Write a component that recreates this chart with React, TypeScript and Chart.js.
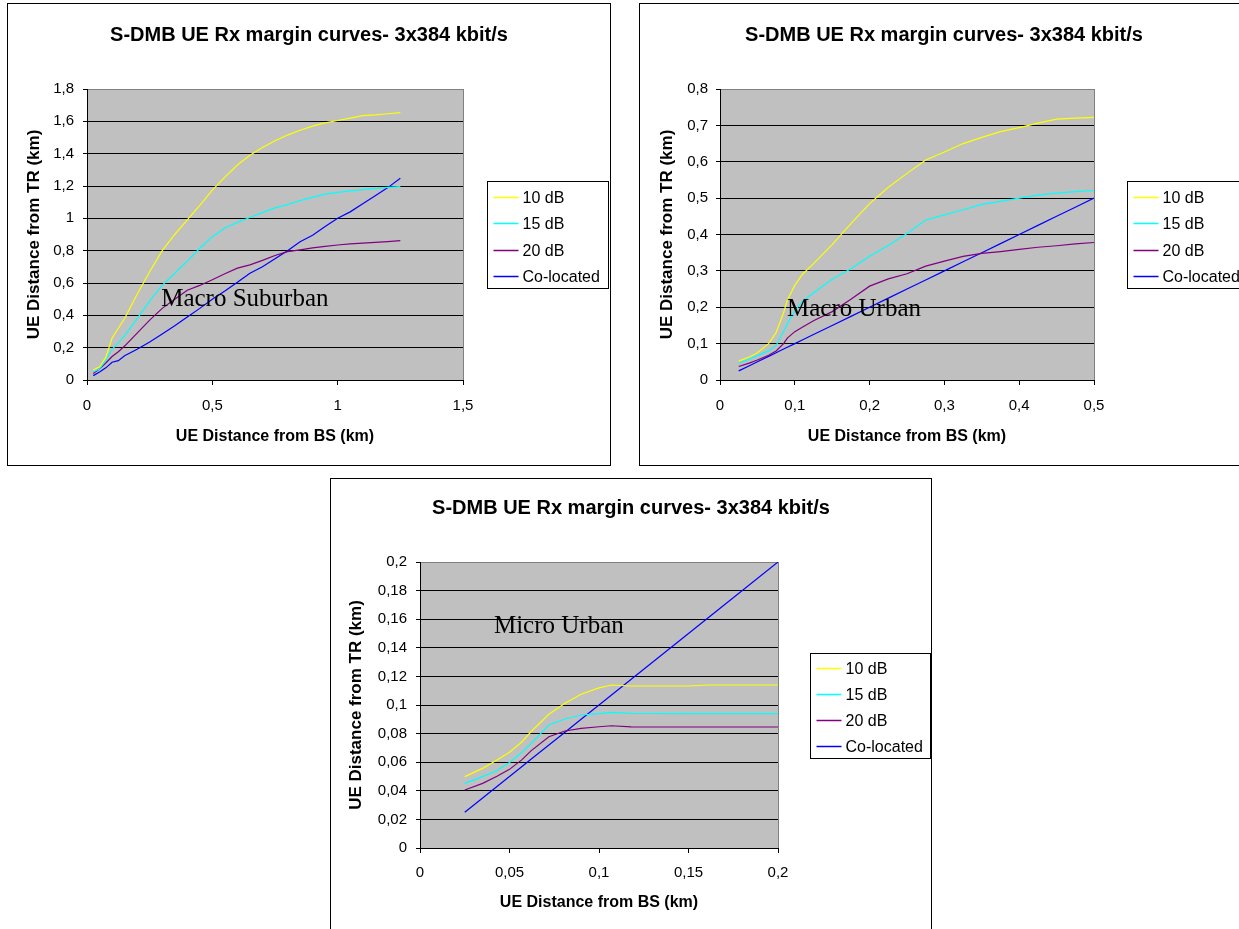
import React, { useEffect, useRef } from 'react';
import { Chart, registerables } from 'chart.js';

Chart.register(...registerables);
Chart.defaults.font.family = '"Liberation Sans", Arial, sans-serif';
Chart.defaults.color = '#000';

const CHART_TITLE = 'S-DMB UE Rx margin curves- 3x384 kbit/s';
const X_AXIS_TITLE = 'UE Distance from BS (km)';
const Y_AXIS_TITLE = 'UE Distance from TR (km)';
const SERIES_NAMES = ['10 dB', '15 dB', '20 dB', 'Co-located'];
const SERIES_COLORS = ['#FFFF00', '#00FFFF', '#800080', '#0000FF'];

// Macro Suburban
const suburbanX = [0.025, 0.05, 0.075, 0.1, 0.125, 0.15, 0.2, 0.25, 0.3, 0.35, 0.4, 0.45, 0.5, 0.55, 0.6, 0.65, 0.7, 0.75, 0.8, 0.85, 0.9, 0.95, 1.0, 1.05, 1.1, 1.15, 1.2, 1.25];
const suburban10dB = [0.062, 0.082, 0.14, 0.26, 0.32, 0.38, 0.53, 0.67, 0.8, 0.9, 0.99, 1.08, 1.175, 1.255, 1.33, 1.39, 1.438, 1.48, 1.515, 1.545, 1.57, 1.59, 1.605, 1.62, 1.635, 1.64, 1.647, 1.654];
const suburban15dB = [0.05, 0.07, 0.12, 0.19, 0.23, 0.275, 0.38, 0.49, 0.585, 0.66, 0.735, 0.815, 0.885, 0.94, 0.975, 1.005, 1.035, 1.065, 1.085, 1.11, 1.13, 1.15, 1.16, 1.17, 1.177, 1.185, 1.192, 1.196];
const suburban20dB = [0.04, 0.07, 0.105, 0.145, 0.175, 0.21, 0.29, 0.37, 0.443, 0.5, 0.555, 0.585, 0.62, 0.657, 0.692, 0.712, 0.74, 0.77, 0.794, 0.805, 0.817, 0.826, 0.835, 0.842, 0.847, 0.851, 0.856, 0.862];
const suburbanCoLocated = [0.027, 0.05, 0.075, 0.11, 0.12, 0.15, 0.19, 0.235, 0.285, 0.335, 0.39, 0.443, 0.5, 0.55, 0.605, 0.66, 0.7, 0.75, 0.8, 0.855, 0.895, 0.95, 1.0, 1.04, 1.09, 1.14, 1.19, 1.248];

// Macro Urban
const urbanX = [0.025, 0.04, 0.05, 0.065, 0.075, 0.085, 0.09, 0.1, 0.11, 0.125, 0.15, 0.175, 0.2, 0.225, 0.25, 0.275, 0.3, 0.325, 0.35, 0.375, 0.4, 0.425, 0.45, 0.475, 0.5];
const urban10dB = [0.052, 0.064, 0.075, 0.1, 0.13, 0.185, 0.22, 0.26, 0.29, 0.32, 0.372, 0.43, 0.485, 0.53, 0.568, 0.605, 0.627, 0.65, 0.667, 0.683, 0.694, 0.706, 0.717, 0.72, 0.722];
const urban15dB = [0.046, 0.058, 0.067, 0.08, 0.095, 0.134, 0.155, 0.19, 0.216, 0.24, 0.277, 0.306, 0.34, 0.37, 0.403, 0.44, 0.454, 0.468, 0.483, 0.491, 0.5, 0.508, 0.514, 0.518, 0.521];
const urban20dB = [0.037, 0.047, 0.055, 0.068, 0.08, 0.1, 0.115, 0.133, 0.145, 0.163, 0.188, 0.222, 0.258, 0.278, 0.292, 0.313, 0.327, 0.34, 0.348, 0.353, 0.359, 0.365, 0.369, 0.374, 0.378];
const urbanCoLocated = [0.025, 0.04, 0.05, 0.065, 0.075, 0.085, 0.09, 0.1, 0.11, 0.125, 0.15, 0.175, 0.2, 0.225, 0.25, 0.275, 0.3, 0.325, 0.35, 0.375, 0.4, 0.425, 0.45, 0.475, 0.5];

// Micro Urban
const microX = [0.025, 0.035, 0.043, 0.05, 0.057, 0.062, 0.072, 0.081, 0.09, 0.1, 0.107, 0.118, 0.15, 0.161, 0.2];
const micro10dB = [0.0499, 0.0557, 0.0615, 0.0669, 0.0743, 0.0813, 0.0935, 0.1012, 0.1075, 0.112, 0.114, 0.1133, 0.1133, 0.114, 0.114];
const micro15dB = [0.0452, 0.0499, 0.0542, 0.0597, 0.0669, 0.073, 0.086, 0.0902, 0.093, 0.094, 0.0949, 0.0942, 0.0939, 0.0939, 0.0939];
const micro20dB = [0.0406, 0.0452, 0.0502, 0.055, 0.0618, 0.0679, 0.0778, 0.0818, 0.0836, 0.0848, 0.0855, 0.0847, 0.0846, 0.0846, 0.0846];
const microCoLocated = [0.025, 0.035, 0.043, 0.05, 0.057, 0.062, 0.072, 0.081, 0.09, 0.1, 0.107, 0.118, 0.15, 0.161, 0.2];

const fmt = (v: number) => String(Math.round(Number(v) * 10000) / 10000).replace('.', ',');

interface PanelProps {
  left: number; top: number; width: number; height: number;
  xs: number[]; ys: number[][];
  xMax: number; xStep: number; yMax: number; yStep: number;
  area: { left: number; right: number; top: number; bottom: number };
  note: { text: string; x: number; y: number };
  titleY: number; yTitleX: number; xTitleY: number; yLabelRight: number; xLabelY: number;
  legend: { gap: number; width: number; height: number; first: number; spacing: number };
}

function Panel(p: PanelProps) {
  const ref = useRef<HTMLCanvasElement>(null);
  useEffect(() => {
    const canvas = ref.current;
    if (!canvas) return;
    const decor = {
      id: 'panelDecor',
      beforeDraw(chart: any) {
        const { ctx, chartArea: a } = chart;
        ctx.save();
        ctx.fillStyle = '#C0C0C0';
        ctx.fillRect(a.left, a.top, a.right - a.left, a.bottom - a.top);
        ctx.strokeStyle = '#808080';
        ctx.lineWidth = 1;
        ctx.beginPath();
        ctx.moveTo(Math.round(a.right) + 0.5, a.top);
        ctx.lineTo(Math.round(a.right) + 0.5, a.bottom);
        ctx.stroke();
        ctx.fillStyle = '#000';
        ctx.font = 'bold 20px "Liberation Sans", Arial, sans-serif';
        ctx.textAlign = 'center';
        ctx.textBaseline = 'middle';
        ctx.fillText(CHART_TITLE, chart.width / 2, p.titleY);
        ctx.restore();
      },
      afterDatasetsDraw(chart: any) {
        const { ctx } = chart;
        ctx.save();
        ctx.fillStyle = '#000';
        ctx.font = '25px "Liberation Serif", "Times New Roman", serif';
        ctx.textAlign = 'left';
        ctx.textBaseline = 'middle';
        ctx.fillText(p.note.text, chart.scales.x.getPixelForValue(p.note.x), chart.scales.y.getPixelForValue(p.note.y));
        ctx.restore();
      },
      afterDraw(chart: any) {
        const { ctx, chartArea: a } = chart;
        const lg = p.legend;
        const bx = Math.round(a.right + lg.gap) + 0.5;
        const by = Math.round((a.top + a.bottom) / 2 - lg.height / 2) + 0.5;
        ctx.save();
        ctx.fillStyle = '#fff';
        ctx.fillRect(bx, by, lg.width, lg.height);
        ctx.strokeStyle = '#000';
        ctx.lineWidth = 1;
        ctx.strokeRect(bx, by, lg.width, lg.height);
        ctx.font = '16px "Liberation Sans", Arial, sans-serif';
        ctx.textAlign = 'left';
        ctx.textBaseline = 'middle';
        chart.data.datasets.forEach((ds: any, i: number) => {
          const y = Math.round(by + lg.first + i * lg.spacing) + 0.5;
          ctx.strokeStyle = ds.borderColor;
          ctx.lineWidth = 1.5;
          ctx.beginPath();
          ctx.moveTo(bx + 6, y);
          ctx.lineTo(bx + 31, y);
          ctx.stroke();
          ctx.fillStyle = '#000';
          ctx.fillText(ds.label, bx + 35, y + 1);
        });
        ctx.restore();
      },
    };

    const chart = new Chart(canvas, {
      type: 'line',
      data: {
        datasets: SERIES_NAMES.map((name, i) => ({
          label: name,
          data: p.xs.map((x, j) => ({ x, y: p.ys[i][j] })),
          borderColor: SERIES_COLORS[i],
          backgroundColor: SERIES_COLORS[i],
          borderWidth: 1.2,
          pointRadius: 0,
          tension: 0,
          fill: false,
        })),
      },
      options: {
        responsive: false,
        animation: false,
        devicePixelRatio: 1,
        events: [],
        layout: { padding: { left: 0, top: p.area.top, right: p.width - p.area.right, bottom: 0 } },
        plugins: { legend: { display: false }, title: { display: false }, tooltip: { enabled: false } },
        scales: {
          x: {
            type: 'linear',
            min: 0,
            max: p.xMax,
            ticks: {
              stepSize: p.xStep,
              color: '#000',
              font: { size: 15 },
              padding: p.xLabelY - p.area.bottom - 5 - 9,
              maxRotation: 0,
              autoSkip: false,
              callback: (v: any) => fmt(v),
            },
            grid: { drawOnChartArea: false, drawTicks: true, tickLength: 5, color: '#000', tickColor: '#000' },
            border: { display: true, color: '#000', width: 1 },
            title: {
              display: true,
              text: X_AXIS_TITLE,
              color: '#000',
              font: { size: 16, weight: 'bold' },
              padding: { top: 0, bottom: p.height - p.xTitleY - 9.6 },
            },
            afterFit: (s: any) => { s.height = p.height - p.area.bottom; },
          },
          y: {
            type: 'linear',
            min: 0,
            max: p.yMax,
            ticks: {
              stepSize: p.yStep,
              color: '#000',
              font: { size: 15 },
              padding: p.area.left - p.yLabelRight - 4,
              callback: (v: any) => fmt(v),
            },
            grid: {
              drawTicks: true,
              tickLength: 4,
              tickColor: '#000',
              color: (c: any) => (c.tick && Math.abs(c.tick.value - p.yMax) < 1e-9 ? '#808080' : '#000'),
            },
            border: { display: true, color: '#000', width: 1 },
            title: {
              display: true,
              text: Y_AXIS_TITLE,
              color: '#000',
              font: { size: 17, weight: 'bold' },
              padding: { top: p.yTitleX - 10.2, bottom: 0 },
            },
            afterFit: (s: any) => { s.width = p.area.left; },
          },
        },
      } as any,
      plugins: [decor],
    });
    return () => chart.destroy();
  }, []);
  return (
    <div style={{ position: 'absolute', left: p.left, top: p.top, width: p.width, height: p.height, border: '1px solid #000', background: '#fff' }}>
      <canvas ref={ref} width={p.width} height={p.height} style={{ display: 'block', width: p.width, height: p.height }} />
    </div>
  );
}

export default function App() {
  return (
    <div style={{ position: 'absolute', left: 0, top: 0, width: 1239, height: 929, overflow: 'hidden', background: '#fff' }}>
      <Panel
        left={7} top={3} width={602} height={461}
        xs={suburbanX} ys={[suburban10dB, suburban15dB, suburban20dB, suburbanCoLocated]}
        xMax={1.5} xStep={0.5} yMax={1.8} yStep={0.2}
        area={{ left: 79, right: 455, top: 85, bottom: 376 }}
        note={{ text: 'Macro Suburban', x: 0.296, y: 0.5 }}
        titleY={31} yTitleX={26} xTitleY={433} yLabelRight={66} xLabelY={402}
        legend={{ gap: 24, width: 121, height: 107, first: 15, spacing: 26.5 }}
      />
      <Panel
        left={639} top={3} width={608} height={461}
        xs={urbanX} ys={[urban10dB, urban15dB, urban20dB, urbanCoLocated]}
        xMax={0.5} xStep={0.1} yMax={0.8} yStep={0.1}
        area={{ left: 80, right: 454, top: 85, bottom: 376 }}
        note={{ text: 'Macro Urban', x: 0.0896, y: 0.195 }}
        titleY={31} yTitleX={27} xTitleY={433} yLabelRight={68} xLabelY={402}
        legend={{ gap: 33, width: 121, height: 107, first: 15, spacing: 26.5 }}
      />
      <Panel
        left={330} top={478} width={600} height={455}
        xs={microX} ys={[micro10dB, micro15dB, micro20dB, microCoLocated]}
        xMax={0.2} xStep={0.05} yMax={0.2} yStep={0.02}
        area={{ left: 89, right: 447, top: 83, bottom: 369 }}
        note={{ text: 'Micro Urban', x: 0.0413, y: 0.155 }}
        titleY={29} yTitleX={25} xTitleY={424} yLabelRight={76} xLabelY={394}
        legend={{ gap: 32, width: 120, height: 105, first: 14, spacing: 26 }}
      />
    </div>
  );
}
